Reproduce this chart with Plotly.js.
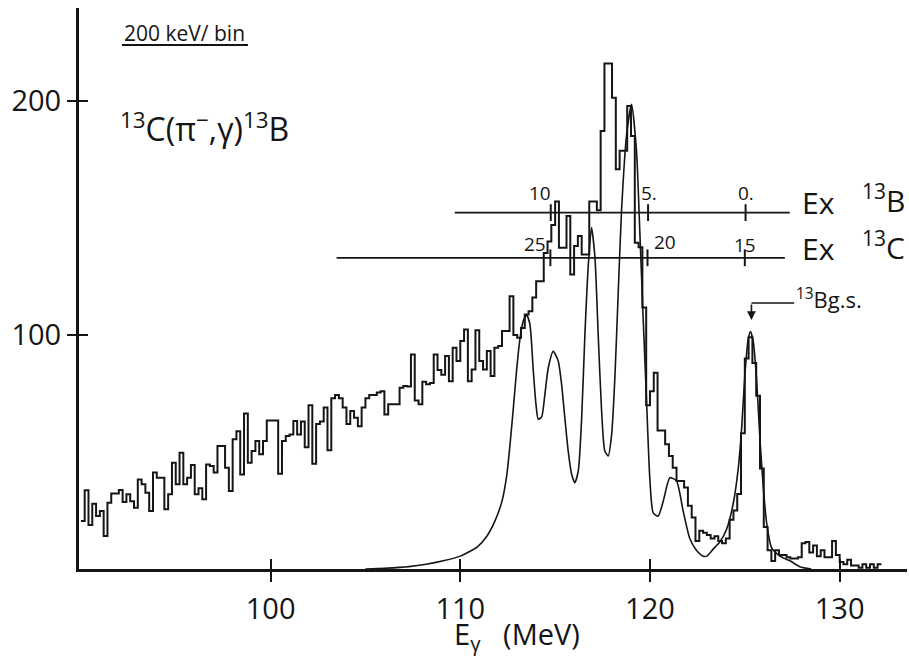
<!DOCTYPE html>
<html>
<head>
<meta charset="utf-8">
<script src="https://cdn.plot.ly/plotly-3.0.1.min.js"></script>
<style>html,body{margin:0;padding:0;background:#fff;}</style>
</head>
<body>
<div id="chart" style="width:909px;height:658px;"></div>
<script>
// ---- histogram: 200 keV bins starting at 90.0 MeV ----
const binLowEdge = 90.0;
const binWidth = 0.2;
const counts = [
  20.5, 33.6, 18.8, 27.9, 22.6, 24.8, 14.1, 28.3, 32.3, 32.3,
  33.8, 28.6, 31.9, 29.0, 26.2, 38.3, 36.2, 32.6, 24.8, 41.2,
  39.0, 39.0, 25.5, 31.9, 45.4, 36.2, 49.7, 36.2, 39.0, 44.4,
  31.9, 34.5, 29.8, 44.7, 44.0, 41.2, 52.6, 52.6, 43.3, 33.3,
  55.4, 58.9, 40.4, 66.4, 45.4, 50.4, 54.7, 49.0, 54.7, 63.5,
  63.5, 63.5, 40.7, 54.7, 56.8, 57.5, 63.2, 57.5, 63.0, 52.0,
  70.0, 45.0, 62.0, 63.0, 69.0, 50.7, 73.0, 74.4, 73.0, 69.0,
  62.0, 67.5, 64.6, 61.0, 69.0, 73.0, 74.4, 74.4, 75.4, 76.0,
  66.0, 70.4, 70.4, 70.4, 77.5, 78.2, 78.0, 91.7, 72.0, 70.4,
  80.0, 79.0, 79.5, 91.7, 85.0, 83.0, 91.0, 80.2, 94.6, 88.9,
  97.4, 102.4, 80.2, 85.3, 102.0, 88.9, 85.3, 93.2, 82.5, 94.6,
  95.3, 101.7, 101.7, 116.6, 100.0, 98.8, 103.0, 108.8, 110.2, 116.0,
  123.0, 123.0, 135.0, 140.0, 147.0, 157.0, 137.3, 137.3, 150.8, 125.9,
  138.0, 142.3, 134.4, 134.4, 157.0, 157.0, 153.3, 187.2, 216.0, 216.0,
  201.4, 170.8, 178.7, 178.7, 197.9, 185.0, 139.4, 137.5, 111.7, 70.0,
  76.0, 83.9, 59.2, 59.2, 53.3, 48.3, 43.3, 37.6, 37.6, 34.8,
  27.0, 22.0, 12.0, 16.3, 15.5, 14.5, 13.0, 14.0, 12.0, 11.0,
  13.0, 21.0, 25.0, 32.0, 58.0, 90.0, 99.0, 88.0, 74.0, 43.0,
  18.0, 8.0, 3.4, 8.0, 6.0, 6.0, 5.0, 4.5, 4.5, 5.0,
  11.0, 11.5, 7.0, 10.0, 5.5, 8.0, 5.0, 5.0, 12.0, 6.0,
  3.0, 2.0, 4.0, 1.5, 1.5, 0.5, 2.0, 0.5, 2.0, 0.5,
  2.0
];

// ---- fitted line shape ----
const fitEnergy = [
  105.0, 106.0, 107.3, 108.2, 109.1, 110.0, 110.9, 111.4, 111.8, 112.2,
  112.45, 112.62, 112.8, 112.97, 113.14, 113.32, 113.5, 113.67, 113.85, 113.99,
  114.11, 114.29, 114.46, 114.64, 114.9, 115.16, 115.34, 115.51, 115.69, 115.87,
  116.04, 116.22, 116.4, 116.57, 116.75, 116.92, 117.1, 117.27, 117.45, 117.62,
  117.8, 117.98, 118.15, 118.33, 118.5, 118.77, 119.03, 119.29, 119.47, 119.64,
  119.82, 119.99, 120.17, 120.43, 120.7, 121.05, 121.4, 121.75, 122.1, 122.45,
  122.8, 123.0, 123.33, 123.68, 124.04, 124.39, 124.65, 124.83, 125.0, 125.18,
  125.3, 125.44, 125.62, 125.79, 125.97, 126.15, 126.41, 126.85, 127.38, 127.9,
  128.5
];
const fitCounts = [
  0, 0.3, 1.0, 2.0, 3.5, 5.5, 9.5, 14, 20, 29,
  40, 53, 69, 85, 98, 106, 108.5, 104.6, 84.6, 70.4,
  64, 65, 74.6, 86, 93, 89, 79, 64.7, 50.4, 40.5,
  36.9, 41.9, 64.7, 100.3, 130, 145.9, 133, 100.3, 67.5, 50.4,
  48.3, 57.5, 81.8, 118.8, 153, 185.8, 198.6, 178.6, 143, 107.4,
  71.8, 39, 24, 22.6, 29, 39, 37.6, 24.8, 13, 8,
  5.5, 5.5, 8.5, 11.5, 17, 28, 42.7, 59.8, 82.6, 98.3,
  101.5, 97.5, 81.1, 56.6, 35.3, 19.7, 9.1, 5.5, 3.5, 1.0,
  0
];

// ---- axes ----
const xTickVals = [100, 110, 120, 130];
const xTickText = ['100', '110', '120', '130'];
const yTickVals = [100, 200];
const yTickText = ['100', '200'];

// ---- excitation-energy scales drawn in E_gamma coordinates ----
const exB_lineE = [109.71, 127.37];
const exB_level = 152.3;
const exB_tickE = [114.77, 119.9, 125.04];
const exB_tickLabels = ['10', '5.', '0.'];
const exC_lineE = [103.48, 127.11];
const exC_level = 133.0;
const exC_tickE = [114.75, 119.87, 125.0];
const exC_tickLabels = ['25', '20', '15'];

// ---- ground-state marker ----
const gsEnergy = 125.35;
const gsArrowTip = 106.4;
const gsArrowLevel = 113.7;
const gsLabelEnergy = 127.6;

const INK = '#151515';
const FONT = 'Open Sans, Liberation Sans, sans-serif';

const histX = counts.map((_, i) => binLowEdge + i * binWidth);
histX.push(binLowEdge + counts.length * binWidth);
const histY = counts.slice();
histY.push(counts[counts.length - 1]);

const XR = [89.9, 133.55];
const YR = [0, 239.74];

const tickMarker = {symbol: 'line-ns-open', size: 12, color: INK, line: {width: 2, color: INK}};

const traces = [
  {
    x: histX, y: histY, type: 'scatter', mode: 'lines',
    line: {shape: 'hv', color: INK, width: 2},
    hoverinfo: 'skip', showlegend: false
  },
  {
    x: fitEnergy, y: fitCounts, type: 'scatter', mode: 'lines',
    line: {shape: 'spline', smoothing: 0.6, color: INK, width: 1.6},
    hoverinfo: 'skip', showlegend: false
  },
  {
    x: exB_lineE, y: exB_lineE.map(() => exB_level), type: 'scatter', mode: 'lines',
    line: {color: INK, width: 1.8}, xaxis: 'x2', yaxis: 'y2', showlegend: false, hoverinfo: 'skip'
  },
  {
    x: exB_tickE, y: exB_tickE.map(() => exB_level), type: 'scatter', mode: 'markers',
    marker: tickMarker, xaxis: 'x2', yaxis: 'y2', showlegend: false, hoverinfo: 'skip'
  },
  {
    x: exC_lineE, y: exC_lineE.map(() => exC_level), type: 'scatter', mode: 'lines',
    line: {color: INK, width: 1.8}, xaxis: 'x2', yaxis: 'y2', showlegend: false, hoverinfo: 'skip'
  },
  {
    x: exC_tickE, y: exC_tickE.map(() => exC_level), type: 'scatter', mode: 'markers',
    marker: tickMarker, xaxis: 'x2', yaxis: 'y2', showlegend: false, hoverinfo: 'skip'
  }
];

const numFont = {family: FONT, size: 19, color: INK};
const exLabelPlacement = [
  {xanchor: 'right', xshift: 2, yshift: 20},
  {xanchor: 'center', xshift: 1, yshift: 20},
  {xanchor: 'center', xshift: 0, yshift: 20}
];
const exCLabelPlacement = [
  {xanchor: 'right', xshift: -2, yshift: 14},
  {xanchor: 'left', xshift: 4, yshift: 16},
  {xanchor: 'center', xshift: 0, yshift: 13}
];

const annotations = [];
exB_tickE.forEach((e, i) => {
  annotations.push(Object.assign({
    x: e, y: exB_level, xref: 'x', yref: 'y', text: exB_tickLabels[i],
    showarrow: false, yanchor: 'middle', font: numFont
  }, exLabelPlacement[i]));
});
exC_tickE.forEach((e, i) => {
  annotations.push(Object.assign({
    x: e, y: exC_level, xref: 'x', yref: 'y', text: exC_tickLabels[i],
    showarrow: false, yanchor: 'middle', font: numFont
  }, exCLabelPlacement[i]));
});

const bigFont = {family: FONT, size: 30, color: INK};
annotations.push(
  {x: 127.9, y: 156.8, xref: 'x', yref: 'y', text: 'Ex', showarrow: false, xanchor: 'left', yanchor: 'middle', font: bigFont},
  {x: 131.05, y: 158.0, xref: 'x', yref: 'y', text: '<sup>13</sup>B', showarrow: false, xanchor: 'left', yanchor: 'middle', font: bigFont},
  {x: 127.9, y: 136.8, xref: 'x', yref: 'y', text: 'Ex', showarrow: false, xanchor: 'left', yanchor: 'middle', font: bigFont},
  {x: 131.05, y: 138.0, xref: 'x', yref: 'y', text: '<sup>13</sup>C', showarrow: false, xanchor: 'left', yanchor: 'middle', font: bigFont},
  {x: gsLabelEnergy, y: 115.5, xref: 'x', yref: 'y', text: '<sup>13</sup>Bg.s.', showarrow: false, xanchor: 'left', yanchor: 'middle', font: {family: FONT, size: 22, color: INK}},
  {x: gsEnergy, y: gsArrowTip, xref: 'x', yref: 'y', text: '', showarrow: true, ax: 0, ay: -17,
   arrowhead: 2, arrowsize: 1.1, arrowwidth: 1.6, arrowcolor: INK},
  {x: 0.0519, y: 0.9563, xref: 'paper', yref: 'paper', text: '200 keV/ bin', showarrow: false, xanchor: 'left', yanchor: 'middle', font: {family: FONT, size: 21, color: INK}},
  {x: 0.0471, y: 0.788, xref: 'paper', yref: 'paper', text: '<sup>13</sup>C(π<sup>−</sup>,γ)<sup>13</sup>B', showarrow: false, xanchor: 'left', yanchor: 'middle', font: {family: FONT, size: 32, color: INK}},
  {x: 0.529, y: -0.119, xref: 'paper', yref: 'paper', text: 'E<sub>γ</sub>   (MeV)', showarrow: false, xanchor: 'center', yanchor: 'middle', font: {family: FONT, size: 29, color: INK}}
);

const shapes = [
  {type: 'line', xref: 'paper', yref: 'paper', x0: 0.0519, x1: 0.2041, y0: 0.934, y1: 0.934, line: {color: INK, width: 2}},
  {type: 'line', xref: 'x', yref: 'y', x0: gsEnergy, x1: gsLabelEnergy, y0: gsArrowLevel, y1: gsArrowLevel, line: {color: INK, width: 1.6}}
];

const tickFont = {family: FONT, size: 29, color: INK};
const layout = {
  width: 909, height: 658,
  margin: {l: 79, r: 2, t: 8, b: 89},
  paper_bgcolor: '#ffffff', plot_bgcolor: '#ffffff',
  showlegend: false,
  xaxis: {
    range: XR, tickvals: xTickVals, ticktext: xTickText, ticks: 'outside', ticklen: 10, tickwidth: 2,
    tickcolor: INK, showline: true, linewidth: 3, linecolor: INK, showgrid: false, zeroline: false,
    tickfont: tickFont, ticklabelstandoff: 2, fixedrange: true
  },
  yaxis: {
    range: YR, tickvals: yTickVals, ticktext: yTickText, ticks: 'outside', ticklen: 9, tickwidth: 2,
    tickcolor: INK, showline: true, linewidth: 3, linecolor: INK, showgrid: false, zeroline: false,
    tickfont: tickFont, fixedrange: true
  },
  xaxis2: {
    range: XR, overlaying: 'x', anchor: 'y2', side: 'bottom', tickvals: xTickVals, ticks: 'inside', ticklen: 10,
    tickwidth: 2, tickcolor: INK, showticklabels: false, showline: false, showgrid: false, zeroline: false, fixedrange: true
  },
  yaxis2: {
    range: YR, overlaying: 'y', anchor: 'x2', side: 'left', tickvals: yTickVals, ticks: 'inside', ticklen: 9,
    tickwidth: 2, tickcolor: INK, showticklabels: false, showline: false, showgrid: false, zeroline: false, fixedrange: true
  },
  annotations: annotations,
  shapes: shapes
};

Plotly.newPlot('chart', traces, layout, {displayModeBar: false, staticPlot: true});
</script>
</body>
</html>
